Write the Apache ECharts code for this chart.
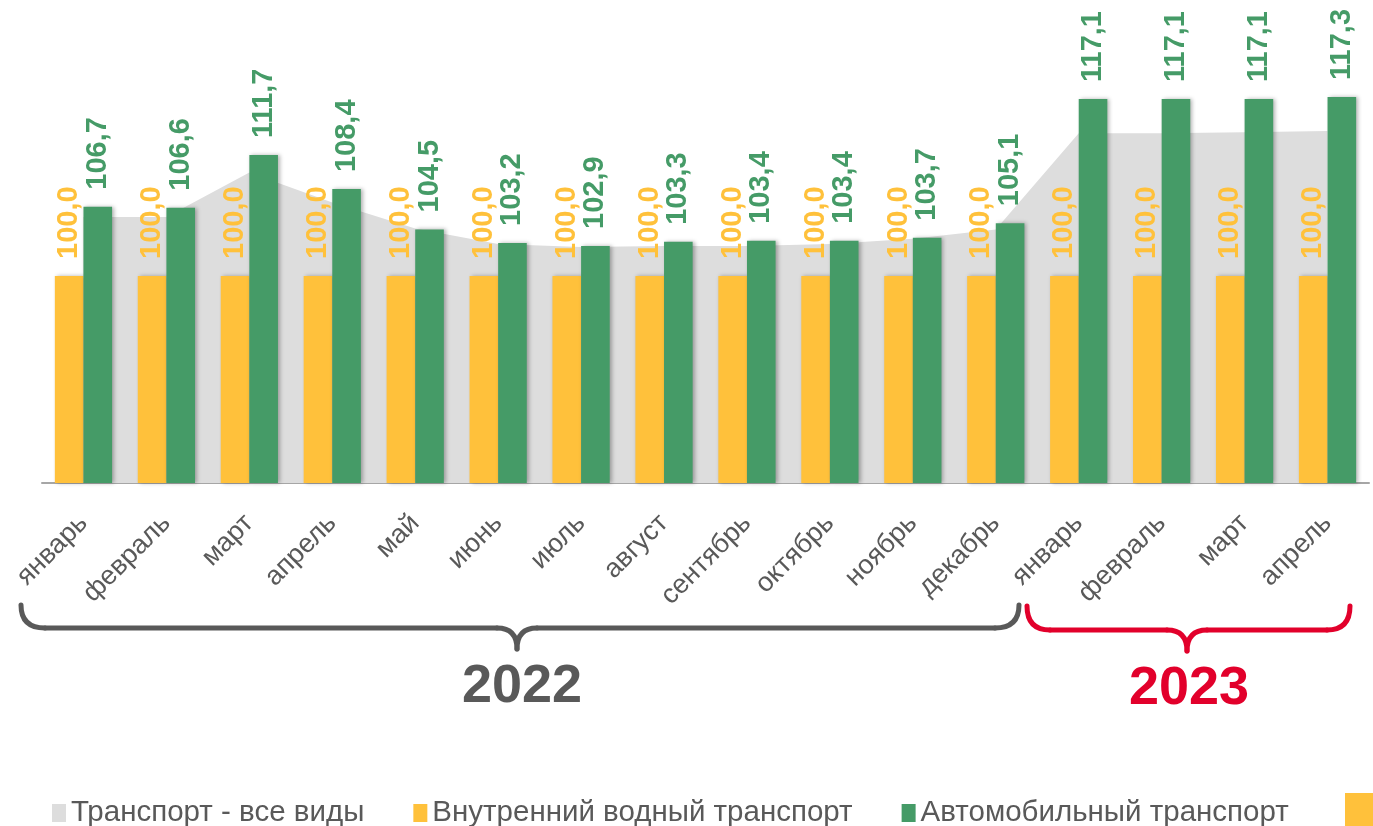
<!DOCTYPE html>
<html>
<head>
<meta charset="utf-8">
<script src="https://cdn.jsdelivr.net/npm/echarts@6/dist/echarts.min.js"></script>
<style>
html,body{margin:0;padding:0;background:#fff;}
#chart{width:1373px;height:826px;}
</style>
</head>
<body>
<div id="chart"></div>
<script>
const categories = ['январь','февраль','март','апрель','май','июнь','июль','август','сентябрь','октябрь','ноябрь','декабрь','январь','февраль','март','апрель'];
const seriesNames = ['Транспорт - все виды','Внутренний водный транспорт','Автомобильный транспорт'];
const allTransport = [105.7,105.7,110.0,107.1,104.6,103.1,102.8,102.9,102.9,103.1,103.6,104.5,113.8,113.8,113.9,114.0];
const waterTransport = [100.0,100.0,100.0,100.0,100.0,100.0,100.0,100.0,100.0,100.0,100.0,100.0,100.0,100.0,100.0,100.0];
const roadTransport = [106.7,106.6,111.7,108.4,104.5,103.2,102.9,103.3,103.4,103.4,103.7,105.1,117.1,117.1,117.1,117.3];
const yearLabels = ['2022','2023'];

const GREY = '#DDDDDD', ORANGE = '#FFC13B', GREEN = '#459B67', DARK = '#595959', RED = '#E2002B';
const FONT = 'Liberation Sans, Arial, sans-serif';
const fmt = p => p.value.toFixed(1).replace('.', ',');
const barShadow = {shadowColor:'rgba(0,0,0,0.3)', shadowBlur:4, shadowOffsetX:2};

// brace built from quadratic curves and lines (annotation, pixel space)
function brace(x1, x2, xm, yTop, yMid, yTip, r, color){
  const st = {stroke:color, lineWidth:5, fill:null, lineCap:'round'};
  return [
    {type:'bezierCurve', shape:{x1:x1, y1:yTop, cpx1:x1, cpy1:yMid, x2:x1+r, y2:yMid}, style:st},
    {type:'line', shape:{x1:x1+r, y1:yMid, x2:xm-20, y2:yMid}, style:st},
    {type:'bezierCurve', shape:{x1:xm-20, y1:yMid, cpx1:xm, cpy1:yMid, x2:xm, y2:yTip}, style:st},
    {type:'bezierCurve', shape:{x1:xm, y1:yTip, cpx1:xm, cpy1:yMid, x2:xm+20, y2:yMid}, style:st},
    {type:'line', shape:{x1:xm+20, y1:yMid, x2:x2-r, y2:yMid}, style:st},
    {type:'bezierCurve', shape:{x1:x2-r, y1:yMid, cpx1:x2, cpy1:yMid, x2:x2, y2:yTop}, style:st}
  ];
}

const valueLabel = color => ({show:true, position:'top', rotate:90, align:'left', verticalAlign:'middle', distance:17,
  fontSize:29, fontWeight:'bold', color:color, fontFamily:FONT, formatter:fmt});

const chart = echarts.init(document.getElementById('chart'));
chart.setOption({
  animation:false,
  grid:{left:42, right:4, top:69, bottom:343},
  legend:{
    left:47, top:793, itemGap:49, itemWidth:14, itemHeight:18, icon:'rect',
    textStyle:{fontSize:29.5, color:DARK, fontFamily:FONT},
    data:[
      {name:seriesNames[0], itemStyle:{color:GREY}},
      {name:seriesNames[1], itemStyle:{color:ORANGE}},
      {name:seriesNames[2], itemStyle:{color:GREEN}}
    ]
  },
  xAxis:{
    type:'category', data:categories,
    axisLine:{lineStyle:{color:'#A6A6A6', width:2}},
    axisTick:{show:false},
    axisLabel:{interval:0, rotate:45, fontSize:27, color:DARK, margin:36, fontFamily:FONT}
  },
  yAxis:{type:'value', min:80, max:120, show:false, splitLine:{show:false}},
  series:[
    {name:seriesNames[0], type:'line', data:allTransport, symbol:'none', z:1,
     itemStyle:{color:GREY}, lineStyle:{width:0, color:GREY},
     areaStyle:{color:GREY, opacity:1, origin:'start'}},
    {name:seriesNames[1], type:'bar', data:waterTransport, barWidth:'34.5%', barGap:'0%', z:2,
     itemStyle:Object.assign({color:ORANGE}, barShadow), label:valueLabel(ORANGE)},
    {name:seriesNames[2], type:'bar', data:roadTransport, barWidth:'34.5%', barGap:'0%', z:3,
     itemStyle:Object.assign({color:GREEN}, barShadow), label:valueLabel(GREEN)}
  ],
  graphic:[].concat(
    brace(21, 1019, 517, 605, 628, 649, 24, DARK),
    brace(1027, 1350, 1187, 606, 630, 651, 23, RED),
    [
      {type:'text', left:462, top:660, style:{text:yearLabels[0], fill:DARK, font:'bold 54px "Liberation Sans", Arial, sans-serif'}},
      {type:'text', left:1129, top:662, style:{text:yearLabels[1], fill:RED, font:'bold 54px "Liberation Sans", Arial, sans-serif'}},
      {type:'rect', shape:{x:1345, y:793, width:30, height:40}, style:{fill:ORANGE}}
    ]
  )
});
</script>
</body>
</html>
